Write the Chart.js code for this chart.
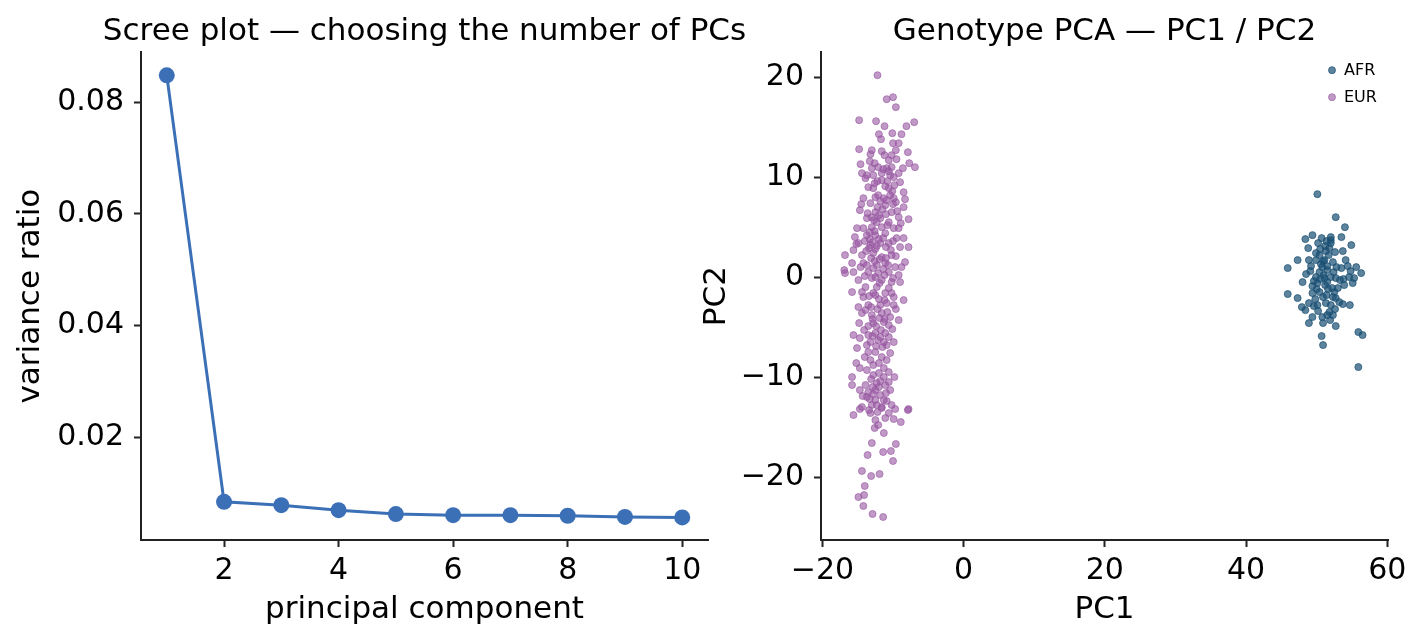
<!DOCTYPE html>
<html>
<head>
<meta charset="utf-8">
<script src="https://cdn.jsdelivr.net/npm/chart.js@4.4.1/dist/chart.umd.min.js"></script>
<style>
  body { margin: 0; background: #fff; }
  #wrap { position: relative; width: 1423px; height: 642px; overflow: hidden; }
  #screeChart { position: absolute; left: 0; top: 0; }
  #pcaChart { position: absolute; left: 690px; top: 0; }
</style>
</head>
<body>
<div id="wrap">
  <canvas id="screeChart" width="849" height="642"></canvas>
  <canvas id="pcaChart" width="733" height="642"></canvas>
</div>
<script>
// scree data
const pcIndex = [1, 2, 3, 4, 5, 6, 7, 8, 9, 10];
const varianceRatio = [0.0848, 0.0084, 0.0078, 0.0069, 0.0062, 0.0060, 0.0060, 0.0059, 0.0057, 0.0056];
const screeXTicks = [2, 4, 6, 8, 10];
const screeYTicks = [0.02, 0.04, 0.06, 0.08];

// PCA tick labels
const pcaXTicks = [-20, 0, 20, 40, 60];
const pcaYTicks = [-20, -10, 0, 10, 20];

// AFR samples (PC1, PC2)
const afrPoints = [
    [50.1, 8.3], [52.7, 6.0], [54.0, 5.0], [48.4, 3.8], [49.4, 4.2], [52.0, 4.0], [52.0, 3.4],
    [53.5, 4.0], [54.9, 3.2], [48.8, 2.9], [50.2, 3.4], [50.5, 2.8], [51.8, 2.9], [52.6, 2.5],
    [53.7, 2.6], [47.3, 1.7], [45.9, 0.9], [48.9, 1.7], [49.9, 1.7], [51.1, 1.7], [52.3, 1.5],
    [54.1, 1.7], [49.2, 1.1], [50.8, 1.0], [54.4, 1.1], [55.6, 1.0], [56.3, 0.4], [50.4, 0.5],
    [51.5, 0.7], [54.6, 0.0], [55.3, -0.1], [49.9, 0.0], [51.1, -0.1], [52.7, -0.1], [50.1, -0.6],
    [51.5, -0.5], [53.9, -0.8], [53.0, -1.1], [49.4, -0.9], [50.4, -1.5], [45.9, -1.7], [47.3, -2.1],
    [49.4, -1.6], [52.5, -1.5], [52.3, -2.0], [52.7, -2.1], [53.2, -2.5], [48.9, -2.6], [50.1, -2.8],
    [51.3, -2.6], [52.0, -2.8], [53.7, -2.7], [54.7, -2.8], [48.4, -3.3], [49.6, -2.9], [51.8, -3.5],
    [50.8, -4.0], [51.5, -3.8], [49.4, -4.0], [48.9, -4.6], [50.9, -4.6], [52.7, -4.9], [50.7, -5.9],
    [50.9, -6.8], [55.9, -5.5], [56.5, -5.8], [55.9, -9.0],
    [50.4, 2.2], [50.6, 1.3], [51.0, 0.2], [52.4, 0.5], [49.6, -0.4], [51.6, -1.2], [50.9, -2.0],
    [52.8, 1.0], [53.3, -0.3], [51.3, 2.6], [49.9, 2.4], [52.6, -3.2], [50.2, -3.4], [53.5, 0.9],
    [48.5, 0.3], [52.0, 3.7], [51.2, 3.1],
    [50.7, 3.9], [51.4, 3.6], [51.7, 2.2], [50.9, 1.6], [51.5, 1.1], [52.0, 0.0], [50.5, -0.2],
    [51.2, -0.8], [50.0, -1.2], [49.8, -2.2], [51.4, -1.8], [52.2, -1.1], [52.3, -3.8], [51.9, -4.3],
    [54.8, 0.6], [55.1, -0.6], [53.8, -0.2], [49.1, 0.6], [48.0, -0.5], [47.9, -3.0]
];

// EUR samples (PC1, PC2)
const eurPoints = [
    [-12.2, 20.2], [-10.9, 17.8], [-10.0, 18.0], [-9.6, 17.0], [-14.8, 15.7], [-12.4, 15.6],
    [-11.2, 15.1], [-8.1, 15.1], [-7.0, 15.5], [-10.1, 14.4], [-8.8, 14.3], [-12.0, 14.3],
    [-11.7, 13.8], [-10.0, 13.4], [-9.2, 13.4], [-14.8, 12.8], [-13.0, 12.7], [-13.2, 12.3],
    [-7.9, 12.5], [-11.2, 12.2], [-10.2, 12.2], [-10.6, 11.7], [-9.5, 11.8], [-7.7, 11.4],
    [-6.9, 11.0], [-14.6, 11.3], [-14.4, 10.4], [-13.0, 10.9], [-12.1, 11.0], [-10.9, 10.9],
    [-10.2, 11.0], [-9.2, 10.4], [-13.7, 10.2], [-12.8, 10.2], [-11.6, 10.4], [-10.4, 10.2],
    [-13.9, 9.9], [-11.6, 9.7], [-9.9, 10.0], [-9.0, 9.5], [-12.8, 8.9], [-10.6, 8.9],
    [-8.5, 8.5], [-14.2, 7.9], [-12.1, 8.2], [-9.9, 7.9], [-8.3, 7.8], [-13.2, 7.4],
    [-11.1, 7.2], [-8.5, 7.0], [-14.7, 6.7], [-12.5, 6.5], [-10.2, 6.5], [-9.2, 6.0],
    [-7.8, 5.8], [-13.7, 5.9], [-11.8, 5.9], [-10.6, 5.5], [-15.1, 4.9], [-14.2, 4.9],
    [-13.0, 5.0], [-11.6, 5.0], [-9.9, 4.9], [-9.2, 4.9], [-15.4, 4.0], [-13.7, 4.2],
    [-12.5, 4.2], [-11.1, 4.4], [-9.5, 3.9], [-8.5, 3.9], [-14.9, 3.4], [-13.2, 3.2],
    [-11.8, 3.4], [-10.6, 3.4], [-9.0, 3.0], [-7.8, 3.0], [-16.8, 2.2], [-15.6, 2.7],
    [-14.4, 2.2], [-12.8, 2.4], [-11.6, 2.0], [-10.2, 2.2], [-8.3, 1.5], [-15.8, 1.4],
    [-14.2, 1.4], [-12.3, 1.2], [-11.1, 1.4], [-9.7, 1.0], [-16.8, 0.4], [-15.6, 0.5],
    [-13.5, 0.5], [-12.1, 0.4], [-10.6, 0.5], [-9.2, 0.2], [-14.9, -0.3], [-13.0, -0.1],
    [-11.6, -0.3], [-10.2, -0.5], [-9.0, -0.5], [-13.9, -1.0], [-12.3, -1.0], [-10.6, -1.1],
    [-15.8, -1.5], [-14.4, -1.5], [-12.8, -1.6], [-11.1, -1.6],
    [-14.2, -2.0], [-12.5, -1.8], [-9.9, -2.0], [-8.5, -2.3], [-10.9, -2.6], [-14.9, -3.0],
    [-13.5, -2.8], [-11.8, -2.8], [-9.9, -2.8], [-14.4, -3.6], [-13.0, -3.8], [-11.6, -3.6],
    [-10.4, -4.0], [-9.2, -4.3], [-12.8, -4.6], [-11.3, -4.5], [-10.6, -4.8], [-15.6, -5.8],
    [-14.7, -6.1], [-13.5, -5.8], [-12.5, -5.6], [-11.8, -6.0], [-11.1, -5.6], [-10.6, -6.0],
    [-13.2, -6.5], [-11.3, -6.5], [-9.9, -6.5], [-15.1, -7.1], [-13.5, -7.5], [-12.5, -7.5],
    [-11.6, -8.0], [-10.4, -7.6], [-13.2, -8.3], [-14.7, -9.1], [-12.8, -8.8], [-11.3, -9.1],
    [-12.8, -9.8], [-11.3, -10.0], [-15.8, -10.0], [-15.8, -10.8], [-13.9, -10.8], [-12.3, -10.6],
    [-11.1, -10.8], [-14.7, -11.3], [-13.5, -11.5], [-12.5, -11.3], [-11.8, -11.8], [-10.4, -11.3],
    [-13.7, -12.0], [-12.5, -12.3], [-14.4, -13.0], [-13.0, -12.8], [-11.6, -13.0], [-10.2, -12.8],
    [-7.8, -13.2],
    [-15.6, -13.8], [-14.7, -13.2], [-13.2, -13.6], [-11.6, -13.1], [-10.6, -13.6], [-9.7, -13.2],
    [-7.9, -13.3], [-12.5, -14.3], [-11.1, -14.1], [-9.9, -14.2], [-8.9, -14.5], [-12.1, -14.8],
    [-12.6, -15.1], [-11.3, -15.6], [-13.0, -16.6], [-9.6, -16.7], [-13.6, -17.8], [-11.4, -17.5],
    [-10.3, -17.4], [-10.0, -18.4], [-14.4, -19.4], [-13.1, -19.9], [-11.9, -19.7], [-14.0, -20.9],
    [-14.9, -22.0], [-14.1, -21.8], [-14.2, -22.9], [-12.9, -23.7], [-11.4, -24.0],
    [-12.5, 8.0], [-11.8, 7.6], [-12.2, 7.0], [-11.5, 6.8], [-12.0, 6.2], [-11.0, 6.3],
    [-10.8, 5.2], [-12.3, 5.5], [-12.6, 4.6], [-12.0, 3.8], [-11.4, 3.9], [-13.3, 4.5],
    [-12.5, 2.8], [-11.9, 1.8], [-12.8, 0.9], [-11.4, 0.8], [-13.1, 1.9], [-11.9, -0.6],
    [-13.9, -3.3], [-12.2, -3.2], [-12.9, -4.2], [-11.9, -4.1], [-13.5, -4.9], [-12.9, -5.9],
    [-12.1, -6.3], [-11.7, -5.3], [-10.9, -6.8], [-12.8, -11.7], [-12.0, -11.0], [-12.3, -12.8],
    [-11.3, -12.3], [-13.3, -12.2], [-11.4, 10.8], [-10.6, 10.6], [-12.2, 9.6], [-9.8, 9.2],
    [-10.4, 8.2], [-9.4, 6.6], [-8.9, 5.4], [-14.0, 3.6], [-15.2, 3.3], [-10.0, 3.6],
    [-9.6, 2.1], [-8.8, 1.0], [-10.2, -1.6], [-9.6, -3.2], [-14.8, -4.6], [-15.2, -8.6],
    [-10.6, -9.5], [-9.8, -10.0], [-16.9, 0.7],
    [-14.5, 7.3], [-13.6, 6.4], [-13.0, 6.0], [-12.7, 5.7], [-11.3, 7.9], [-10.9, 7.7],
    [-10.0, 7.3], [-9.6, 7.5], [-13.3, 3.8], [-12.9, 3.5], [-12.3, 3.1], [-11.0, 3.0],
    [-10.3, 2.7], [-13.8, 2.6], [-13.4, 2.9], [-14.6, 1.0], [-13.7, 1.2], [-12.6, 1.6],
    [-11.0, 1.9], [-10.7, 1.2], [-14.0, 0.1], [-12.5, 0.0], [-11.2, 0.2], [-10.0, -0.1],
    [-13.5, 9.0], [-12.6, 9.4], [-11.1, 9.1], [-10.8, 9.6], [-13.3, 11.6], [-12.6, 11.4],
    [-11.6, 12.6], [-9.6, 12.7], [-8.6, 10.9], [-10.1, 8.6],
    [-13.4, -1.9], [-12.0, -2.2], [-11.2, -2.3], [-13.1, -3.0], [-10.8, -3.5], [-12.4, -4.9],
    [-11.2, -4.2], [-10.1, -5.2], [-14.1, -5.3], [-13.7, -6.8], [-12.4, -6.9], [-11.5, -7.0],
    [-14.0, -8.0], [-12.0, -8.6], [-10.9, -8.3], [-13.7, -9.3], [-12.0, -9.6], [-13.1, -10.2],
    [-11.8, -10.4], [-10.6, -10.5], [-14.3, -11.9], [-12.9, -11.0], [-11.0, -11.6], [-13.4, -13.3],
    [-12.2, -13.5], [-10.9, -12.4]
];

const FONT = 'DejaVu Sans';
const INK = '#222';

function axisStyle(ticksList, fmt, fit, pad) {
    return {
        type: 'linear',
        afterBuildTicks: (scale) => { scale.ticks = ticksList.map(v => ({ value: v })); },
        afterFit: fit,
        grid: { display: true, drawOnChartArea: false, drawTicks: true, tickLength: 7, tickWidth: 2, tickColor: INK },
        border: { display: true, color: INK, width: 2 },
        ticks: { color: '#000', padding: pad, font: { family: FONT, size: 30 }, callback: fmt, maxRotation: 0, autoSkip: false }
    };
}

function minusFmt(v) {
    return v < 0 ? '\u2212' + Math.abs(v) : String(v);
}

// empty right-hand axis, only reserves room so the title centres over the plot
function spacerAxis(w) {
    return {
        type: 'linear',
        position: 'right',
        display: true,
        grid: { display: false },
        border: { display: false },
        ticks: { display: false },
        afterFit: s => { s.width = w; }
    };
}

// legend drawn inside the plot area, upper right
const innerLegend = {
    id: 'innerLegend',
    afterDraw(chart) {
        const ctx = chart.ctx;
        const area = chart.chartArea;
        ctx.save();
        ctx.font = '16px ' + FONT;
        ctx.textBaseline = 'middle';
        chart.data.datasets.forEach((ds, i) => {
            const y = area.top + 18 + i * 27;
            const x = area.right - 56;
            ctx.beginPath();
            ctx.arc(x, y, 3.5, 0, Math.PI * 2);
            ctx.fillStyle = ds.backgroundColor;
            ctx.fill();
            ctx.lineWidth = 1;
            ctx.strokeStyle = ds.borderColor;
            ctx.stroke();
            ctx.fillStyle = '#000';
            ctx.fillText(ds.label, x + 12, y + 1);
        });
        ctx.restore();
    }
};

const screeX = axisStyle(screeXTicks, v => String(v), s => { s.height = 102; }, 6);
screeX.min = 0.55;
screeX.max = 10.45;
screeX.title = { display: true, text: 'principal component', color: '#000', font: { family: FONT, size: 31 }, padding: { top: 0, bottom: 13 } };

const screeY = axisStyle(screeYTicks, v => v.toFixed(2), s => { s.width = 141; }, 10);
screeY.min = 0.00156;
screeY.max = 0.08895;
screeY.title = { display: true, text: 'variance ratio', color: '#000', font: { family: FONT, size: 31 }, padding: { top: 12, bottom: 0 } };

new Chart(document.getElementById('screeChart'), {
    type: 'scatter',
    data: {
        datasets: [{
            data: pcIndex.map((pc, i) => ({ x: pc, y: varianceRatio[i] })),
            showLine: true,
            borderColor: '#3b6fb6',
            backgroundColor: '#3b6fb6',
            borderWidth: 3,
            pointRadius: 8,
            pointBorderWidth: 0,
            pointBackgroundColor: '#3b6fb6'
        }]
    },
    options: {
        responsive: false,
        animation: false,
        layout: { padding: 0 },
        plugins: {
            legend: { display: false },
            tooltip: { enabled: false },
            title: {
                display: true,
                text: 'Scree plot \u2014 choosing the number of PCs',
                color: '#000',
                font: { family: FONT, size: 31, weight: 'normal' },
                padding: { top: 13, bottom: 2 }
            }
        },
        scales: { x: screeX, y: screeY, spacer: spacerAxis(141) }
    }
});

const pcaX = axisStyle(pcaXTicks, minusFmt, s => { s.height = 102; }, 6);
pcaX.min = -20.2;
pcaX.max = 60.1;
pcaX.title = { display: true, text: 'PC1', color: '#000', font: { family: FONT, size: 31 }, padding: { top: 0, bottom: 13 } };

const pcaY = axisStyle(pcaYTicks, minusFmt, s => { s.width = 131; }, 10);
pcaY.min = -26.3;
pcaY.max = 22.5;
pcaY.title = { display: true, text: 'PC2', color: '#000', font: { family: FONT, size: 31 }, padding: { top: 8, bottom: 0 } };

new Chart(document.getElementById('pcaChart'), {
    type: 'scatter',
    data: {
        datasets: [
            {
                label: 'AFR',
                data: afrPoints.map(p => ({ x: p[0], y: p[1] })),
                backgroundColor: 'rgba(25, 80, 115, 0.7)',
                borderColor: 'rgba(25, 80, 115, 0.7)',
                borderWidth: 1,
                pointRadius: 3.5
            },
            {
                label: 'EUR',
                data: eurPoints.map(p => ({ x: p[0], y: p[1] })),
                backgroundColor: 'rgba(150, 85, 160, 0.6)',
                borderColor: 'rgba(150, 85, 160, 0.6)',
                borderWidth: 1,
                pointRadius: 3.5
            }
        ]
    },
    options: {
        responsive: false,
        animation: false,
        layout: { padding: { left: 0, right: 35, top: 0, bottom: 0 } },
        plugins: {
            legend: { display: false },
            tooltip: { enabled: false },
            title: {
                display: true,
                fullSize: false,
                text: 'Genotype PCA \u2014 PC1 / PC2',
                color: '#000',
                font: { family: FONT, size: 31, weight: 'normal' },
                padding: { top: 13, bottom: 2 }
            }
        },
        scales: { x: pcaX, y: pcaY }
    },
    plugins: [innerLegend]
});
</script>
</body>
</html>
